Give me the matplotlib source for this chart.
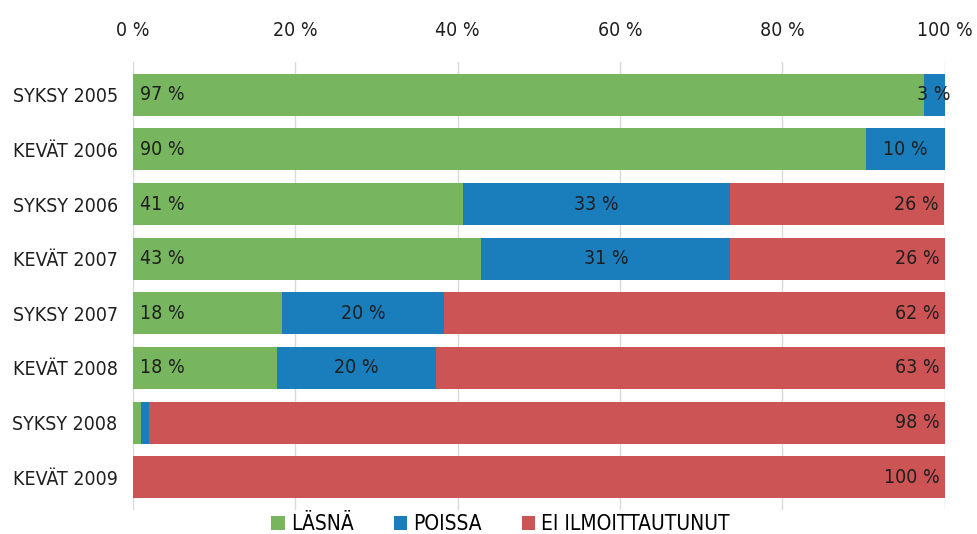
import numpy as np
import matplotlib
matplotlib.use("Agg")
import matplotlib.pyplot as plt

plt.rcParams['font.family'] = ['DejaVu Sans']
plt.rcParams['font.stretch'] = 'condensed'

# Lukukaudet
categories = ["SYKSY 2005", "KEVÄT 2006", "SYKSY 2006", "KEVÄT 2007",
              "SYKSY 2007", "KEVÄT 2008", "SYKSY 2008", "KEVÄT 2009"]

# Osuudet (%) luettu kuvasta
lasna = [97.4, 90.3, 40.6, 42.9, 18.4, 17.7, 1.0, 0.0]
poissa = [2.6, 9.7, 32.9, 30.7, 19.9, 19.6, 1.0, 0.0]
ei_ilm = [0.0, 0.0, 26.4, 26.4, 61.7, 62.7, 98.0, 100.0]

series_names = ["LÄSNÄ", "POISSA", "EI ILMOITTAUTUNUT"]
colors = ["#77b55f", "#1a7dbc", "#cc5454"]
xticks = [0, 20, 40, 60, 80, 100]

fig = plt.figure(figsize=(9.78, 5.34), dpi=100)
ax = fig.add_axes([0.136, 0.045, 0.83, 0.839])

y = np.arange(len(categories))
left = np.zeros(len(categories))
bars = []
for name, vals, col in zip(series_names, [lasna, poissa, ei_ilm], colors):
    vals = np.array(vals)
    b = ax.barh(y, vals, left=left, height=0.77, color=col, label=name, zorder=3)
    bars.append(b)
    for i, v in enumerate(vals):
        if v < 2.5:
            continue
        txt = f"{round(v):d} %"
        if name == "LÄSNÄ":
            ax.text(left[i] + 0.8, i, txt, ha="left", va="center",
                    fontsize=14, color="#1f1f1f", zorder=4)
        elif name == "POISSA":
            ax.text(left[i] + v / 2, i, txt, ha="center", va="center",
                    fontsize=14, color="#1f1f1f", zorder=4)
        else:
            ax.text(left[i] + v - 0.6, i, txt, ha="right", va="center",
                    fontsize=14, color="#1f1f1f", zorder=4)
    left += vals

ax.set_xlim(0, 100)
ax.set_ylim(len(categories) - 0.4, -0.6)
ax.set_yticks(y)
ax.set_yticklabels(categories, fontsize=14, color="#1f1f1f")
ax.set_xticks(xticks)
ax.set_xticklabels([f"{t} %" for t in xticks], fontsize=14, color="#1f1f1f")
ax.xaxis.tick_top()
ax.tick_params(axis="x", length=0, pad=16)
ax.tick_params(axis="y", length=0, pad=11)
ax.grid(axis="x", color="#d9d9d9", linewidth=1, zorder=0)
for s in ax.spines.values():
    s.set_visible(False)

fig.legend(handles=bars, labels=series_names, loc="center",
           bbox_to_anchor=(0.512, 0.018), ncol=3, frameon=False,
           fontsize=15, handlelength=0.65, handleheight=0.65,
           handletextpad=0.3, columnspacing=1.9)

fig.savefig("out.png", dpi=100)
